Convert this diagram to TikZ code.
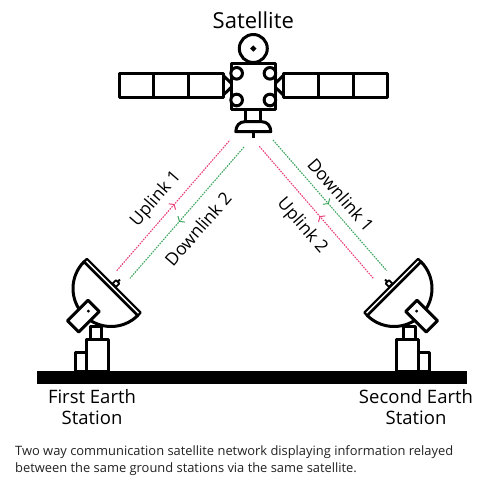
\documentclass[tikz,border=0pt]{standalone}
\usepackage{fontspec}
\setmainfont{Open Sans}
\usetikzlibrary{arrows.meta,decorations.markings}
\definecolor{uplinkpink}{RGB}{233,64,123}
\definecolor{downlinkgreen}{RGB}{62,166,96}
\definecolor{captiongray}{RGB}{34,34,34}
\tikzset{
  outline/.style={draw=black,line width=3pt,line join=round},
  whitepart/.style={outline,fill=white},
  beam/.style={line width=1.1pt,dash pattern=on 1.6pt off 1.1pt},
  uplink/.style={beam,draw=uplinkpink},
  downlink/.style={beam,draw=downlinkgreen},
  beamarrow/.style={postaction={decorate},decoration={markings,
    mark=at position #1 with {\pgfsetdash{}{0pt}\arrow{Straight Barb[length=3pt,width=9pt,line width=1pt]}}}},
  linklabel/.style={font=\fontsize{17.5}{21}\selectfont},
  stationlabel/.style={align=center,font=\fontsize{18.5}{21}\selectfont}
}

\begin{document}
\begin{tikzpicture}[x=1pt,y=-1pt]
  \useasboundingbox (0,0) rectangle (478,485);

  % satellite
  \begin{scope}[shift={(253.3,0)}]
    \foreach \s in {1,-1}{
      \begin{scope}[xscale=\s]
        \draw[outline] (-134,73.3) rectangle (-30,97.3);
        \draw[outline] (-100,73.3) -- (-100,97.3) (-65,73.3) -- (-65,97.3);
        \draw[outline] (-30,75.5) -- (-20,85.3) -- (-30,95);
      \end{scope}
    }
    \draw[whitepart] (-21.6,63) rectangle (21.7,109.5);
    \draw[whitepart] (0,48.5) circle[radius=14];
    \fill (0,45.3) -- (3.2,48.5) -- (0,51.7) -- (-3.2,48.5) -- cycle;
    \foreach \cx in {-16.65,16.65}
      \foreach \cy in {73.3,100}
        \draw[whitepart] (\cx,\cy) circle[radius=5.8];
    \draw[whitepart] (-7.5,109.5) rectangle (7.5,121.7);
    \draw[whitepart] (-8.5,121.7) .. controls (-14,121.7) and (-17.5,126) .. (-17.5,131.7)
      -- (17.5,131.7) .. controls (17.5,126) and (14,121.7) .. (8.5,121.7) -- cycle;
    \draw[line width=3pt] (0,131.7) -- (0,138);
    \node[font=\fontsize{22}{26}\selectfont] (satlabel) at (0,20) {Satellite};
  \end{scope}

  % ground and the two dishes
  \fill (37,371) rectangle (467,384);
  \foreach \mx/\sx in {0/1,505/-1}{
    \begin{scope}[shift={(\mx,0)},xscale=\sx]
      \draw[whitepart] (90,326) rectangle (101.7,339);
      \draw[whitepart] (86.7,339) rectangle (108.3,371);
      \draw[whitepart] (75.7,352) rectangle (86.7,371);
      \draw[whitepart] (111,288.5) ++(225:38) arc[start angle=225,end angle=45,radius=38] -- cycle;
      \draw[whitepart,line width=2.2pt] (84.1,261.6) -- (137.9,315.4) -- (140.7,312.6) -- (86.9,258.8) -- cycle;
      \draw[whitepart,line width=1.8pt] (119.3,283.5) -- (116,286.8) -- (112.7,283.5) -- (116,280.2) -- cycle;
      \draw[line width=1.8pt] (117.6,281.9) -- (120,279.5);
      \draw[whitepart] (88,300.2) -- (99.3,311.5) -- (78.8,332) -- (67.5,320.7) -- cycle;
      \fill (88.4,311.1) circle[radius=1.6];
    \end{scope}
  }

  % links
  \coordinate (up1g) at (116.7,270.7);
  \coordinate (up1s) at (230,140);
  \coordinate (dn2s) at (244,147);
  \coordinate (dn2g) at (130,278.3);
  \coordinate (dn1s) at (273,140);
  \coordinate (dn1g) at (386.7,270.7);
  \coordinate (up2g) at (373.3,278.3);
  \coordinate (up2s) at (259,146);
  \draw[uplink,beamarrow=0.51] (up1g) -- (up1s);
  \draw[downlink,beamarrow=0.57] (dn2s) -- (dn2g);
  \draw[downlink,beamarrow=0.49] (dn1s) -- (dn1g);
  \draw[uplink,beamarrow=0.47] (up2g) -- (up2s);

  \node[linklabel,rotate=49] (uplabel1) at (156,199) {Uplink 1};
  \node[linklabel,rotate=49] (downlabel2) at (198,229) {Downlink 2};
  \node[linklabel,rotate=-49] (downlabel1) at (341,195) {Downlink 1};
  \node[linklabel,rotate=-49] (uplabel2) at (302,226) {Uplink 2};

  \node[stationlabel] (firststation) at (92,407) {First Earth\\Station};
  \node[stationlabel] (secondstation) at (416,407) {Second Earth\\Station};

  \node[anchor=north west,align=left,inner sep=0pt,text=captiongray,
    font=\fontsize{12.9}{17}\selectfont] (caption) at (15,445)
    {Two way communication satellite network displaying information relayed\\
     between the same ground stations via the same satellite.};
\end{tikzpicture}
\end{document}
